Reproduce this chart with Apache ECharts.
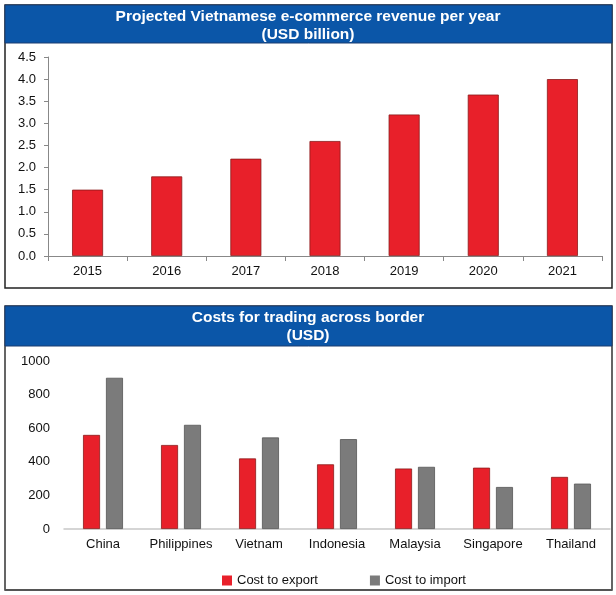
<!DOCTYPE html>
<html>
<head>
<meta charset="utf-8">
<script src="https://cdn.jsdelivr.net/npm/echarts@6/dist/echarts.min.js"></script>
<style>
html,body{margin:0;padding:0;background:#fff;}
#main{width:616px;height:595px;}
</style>
</head>
<body>
<div id="main"></div>
<script>
const years = ['2015','2016','2017','2018','2019','2020','2021'];
const revenue = [1.5, 1.8, 2.2, 2.6, 3.2, 3.65, 4.0];
const revenueTicks = { min: 0, max: 4.5, interval: 0.5 };

const countries = ['China','Philippines','Vietnam','Indonesia','Malaysia','Singapore','Thailand'];
const costExport = [560, 500, 420, 385, 360, 365, 310];
const costImport = [900, 620, 545, 535, 370, 250, 270];
const costTicks = { min: 0, max: 1000, interval: 200 };

const title1 = ['Projected Vietnamese e-commerce revenue per year', '(USD billion)'];
const title2 = ['Costs for trading across border', '(USD)'];

const FONT = '"Liberation Sans", Arial, sans-serif';
const BLUE = '#0b56a8';
const RED = '#e8202a';
const GRAY = '#7b7b7b';

const chart = echarts.init(document.getElementById('main'));
chart.setOption({
  animation: false,
  textStyle: { fontFamily: FONT },
  graphic: [
    { type: 'rect', shape: { x: 5, y: 5, width: 607, height: 283 }, style: { fill: '#fff', stroke: '#222', lineWidth: 1.5 }, z: -10 },
    { type: 'rect', shape: { x: 5, y: 5, width: 607, height: 38 }, style: { fill: BLUE, stroke: '#1a3c70', lineWidth: 1 }, z: -9 },
    { type: 'rect', shape: { x: 5, y: 306, width: 607, height: 284 }, style: { fill: '#fff', stroke: '#333', lineWidth: 1.5 }, z: -10 },
    { type: 'line', shape: { x1: 5, y1: 590, x2: 612, y2: 590 }, style: { stroke: '#555', lineWidth: 2 }, z: -8 },
    { type: 'rect', shape: { x: 5, y: 306, width: 607, height: 40 }, style: { fill: BLUE, stroke: '#1a3c70', lineWidth: 1 }, z: -9 }
  ],
  title: [
    { text: title1.join('\n'), left: 'center', top: 8, padding: 0,
      textStyle: { color: '#fff', fontSize: 15.5, fontWeight: 'bold', lineHeight: 18, fontFamily: FONT } },
    { text: title2.join('\n'), left: 'center', top: 309, padding: 0,
      textStyle: { color: '#fff', fontSize: 15.5, fontWeight: 'bold', lineHeight: 18, fontFamily: FONT } }
  ],
  legend: {
    data: ['Cost to export', 'Cost to import'],
    left: 217, top: 569, itemWidth: 10, itemHeight: 10, itemGap: 52,
    icon: 'rect',
    itemStyle: { borderWidth: 0 },
    textStyle: { color: '#111', fontSize: 13, fontFamily: FONT }
  },
  grid: [
    { left: 48, right: 14, top: 57, bottom: 339 },
    { left: 64, right: 6, top: 361, bottom: 66 }
  ],
  xAxis: [
    { type: 'category', gridIndex: 0, data: years,
      axisLine: { lineStyle: { color: '#888' } },
      axisTick: { show: true, alignWithLabel: false, length: 5, lineStyle: { color: '#888' } },
      axisLabel: { color: '#111', fontSize: 13, margin: 9, interval: 0, fontFamily: FONT } },
    { type: 'category', gridIndex: 1, data: countries,
      axisLine: { lineStyle: { color: '#c8c8c8', width: 1.5 } },
      axisTick: { show: false },
      axisLabel: { color: '#111', fontSize: 13, margin: 9, interval: 0, fontFamily: FONT } }
  ],
  yAxis: [
    { type: 'value', gridIndex: 0, min: revenueTicks.min, max: revenueTicks.max, interval: revenueTicks.interval,
      axisLine: { show: true, lineStyle: { color: '#888' } },
      axisTick: { show: true, length: 4, lineStyle: { color: '#888' } },
      splitLine: { show: false },
      axisLabel: { color: '#111', fontSize: 13, margin: 12, formatter: v => v.toFixed(1), fontFamily: FONT } },
    { type: 'value', gridIndex: 1, min: costTicks.min, max: costTicks.max, interval: costTicks.interval,
      axisLine: { show: false }, axisTick: { show: false }, splitLine: { show: false },
      axisLabel: { color: '#111', fontSize: 13, margin: 14, formatter: v => String(v), fontFamily: FONT } }
  ],
  series: [
    { name: 'Revenue', type: 'bar', xAxisIndex: 0, yAxisIndex: 0, data: revenue, barWidth: 31,
      itemStyle: { color: RED, borderColor: '#8a1a1a', borderWidth: 0.8 } },
    { name: 'Cost to export', type: 'bar', xAxisIndex: 1, yAxisIndex: 1, data: costExport, barWidth: 17, barGap: '35%',
      itemStyle: { color: RED, borderColor: '#8a1a1a', borderWidth: 0.8 } },
    { name: 'Cost to import', type: 'bar', xAxisIndex: 1, yAxisIndex: 1, data: costImport, barWidth: 17, barGap: '35%',
      itemStyle: { color: GRAY, borderColor: '#555', borderWidth: 0.8 } }
  ]
});
</script>
</body>
</html>
